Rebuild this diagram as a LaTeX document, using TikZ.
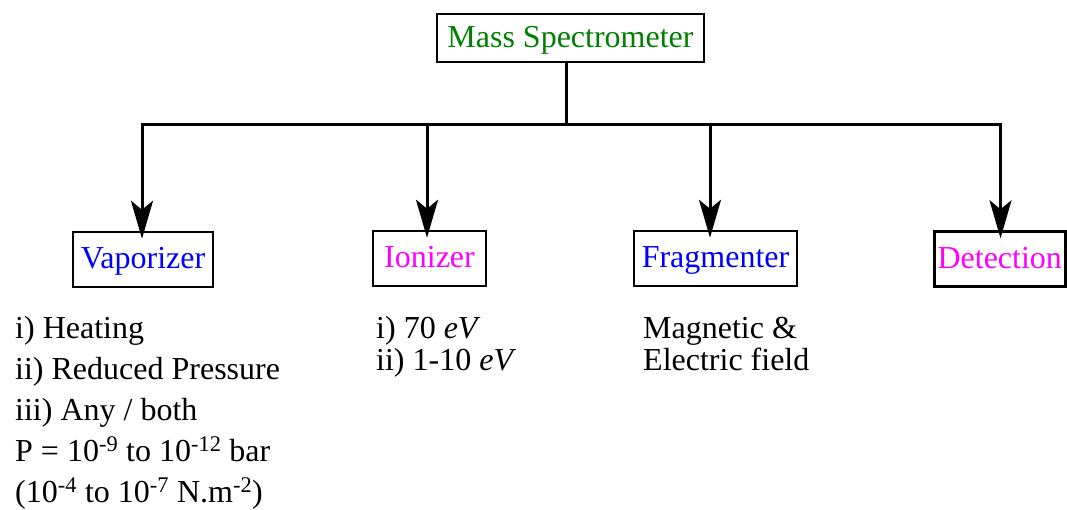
\documentclass[tikz,border=0pt]{standalone}
\usepackage{fontspec}
\setmainfont{Liberation Serif}
\usetikzlibrary{arrows.meta,positioning}

\definecolor{msgreen}{RGB}{0,128,0}
\definecolor{msblue}{RGB}{0,0,255}
\definecolor{msmagenta}{RGB}{255,0,255}

\tikzset{
  stagebox/.style={draw, line width=2.5pt, inner sep=0pt, minimum height=55pt,
    text height=25pt, text depth=7pt, font=\fontsize{32}{41}\selectfont},
  branch/.style={line width=3pt, -{Stealth[length=38pt,width=22pt,inset=9pt]}},
  notes/.style={anchor=base west, inner sep=0pt, align=left}
}

\begin{document}
\begin{tikzpicture}[x=1pt, y=-1pt]

  \useasboundingbox (0,0) rectangle (1067,509);

  \node[stagebox, text=msgreen, minimum width=267pt, minimum height=48pt] (ms) at (570.5,38) {Mass Spectrometer};

  \node[stagebox, text=msblue, minimum width=140pt] (vap) at (143,259.5) {Vaporizer};
  \node[stagebox, text=msmagenta, minimum width=113pt] (ion) at (429.5,258.5) {Ionizer};
  \node[stagebox, text=msblue, minimum width=163pt] (frag) at (715.5,258.5) {Fragmenter};
  \node[stagebox, text=msmagenta, minimum width=131pt] (det) at (999.75,259) {Detection};

  \coordinate (hub) at (566,124);
  \coordinate (b1) at (142,124);
  \coordinate (b2) at (427,124);
  \coordinate (b3) at (710,124);
  \coordinate (b4) at (1000.5,124);

  % tree lines
  \draw[line width=3pt] (ms.south -| hub) -- (hub);
  \draw[branch] (hub) -- (b1) -- ([yshift=-8pt]b1 |- vap.north);
  \draw[branch] (hub) -- (b4) -- ([yshift=-8pt]b4 |- det.north);
  \draw[branch] (b2) -- ([yshift=-8pt]b2 |- ion.north);
  \draw[branch] (b3) -- ([yshift=-8pt]b3 |- frag.north);

  % notes under the boxes (base = last line)
  \node[notes, font=\fontsize{32}{41}\selectfont] (vapnotes) at (15,502)
    {i) Heating\\
     ii) Reduced Pressure\\
     iii) Any / both\\
     P = 10\textsuperscript{-9} to 10\textsuperscript{-12} bar\\
     (10\textsuperscript{-4} to 10\textsuperscript{-7} N.m\textsuperscript{-2})};
  \node[notes, font=\fontsize{32}{32}\selectfont] (ionnotes) at (376,370)
    {i) 70 \textit{eV}\\
     ii) 1-10 \textit{eV}};
  \node[notes, font=\fontsize{32}{32}\selectfont] (fragnotes) at (643,370)
    {Magnetic \&\\
     Electric field};

\end{tikzpicture}
\end{document}
